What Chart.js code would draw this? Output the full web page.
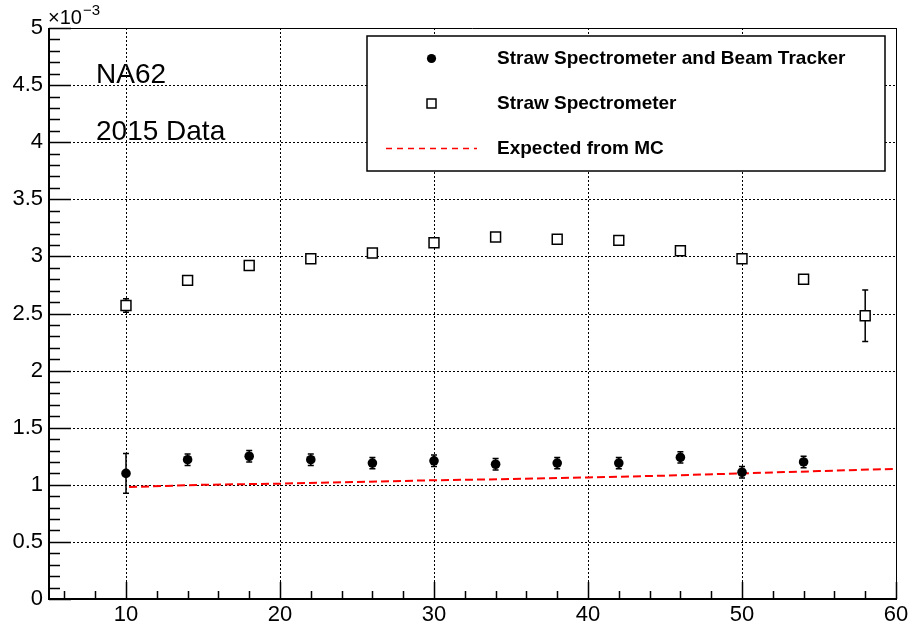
<!DOCTYPE html>
<html>
<head>
<meta charset="utf-8">
<title>NA62 2015 Data</title>
<script src="https://cdn.jsdelivr.net/npm/chart.js@4.4.0/dist/chart.umd.min.js"></script>
<style>
  html, body { margin: 0; padding: 0; background: #fff; }
  #wrap { width: 912px; height: 628px; }
</style>
</head>
<body>
<div id="wrap"><canvas id="chart" width="912" height="628"></canvas></div>
<script>
// Values are in units of 1e-3 (see the axis multiplier)
const beamMomentum = [10, 14, 18, 22, 26, 30, 34, 38, 42, 46, 50, 54];
const beamRatio    = [1.10, 1.22, 1.25, 1.22, 1.19, 1.21, 1.18, 1.19, 1.19, 1.24, 1.11, 1.20];
const beamError    = [0.175, 0.05, 0.05, 0.05, 0.05, 0.05, 0.05, 0.05, 0.05, 0.05, 0.05, 0.05];

const strawMomentum = [10, 14, 18, 22, 26, 30, 34, 38, 42, 46, 50, 54, 58];
const strawRatio    = [2.57, 2.79, 2.92, 2.98, 3.03, 3.12, 3.17, 3.15, 3.14, 3.05, 2.98, 2.80, 2.48];
const strawError    = [0.06, 0.02, 0.02, 0.02, 0.02, 0.02, 0.02, 0.02, 0.02, 0.02, 0.02, 0.03, 0.225];

const mcMomentum = [10.2, 15, 20, 25, 30, 35, 40, 45, 50, 55, 60];
const mcExpected = [0.98, 1.00, 1.01, 1.025, 1.04, 1.05, 1.065, 1.08, 1.10, 1.12, 1.14];

const xTicks = [10, 20, 30, 40, 50, 60];
const yTicks = [0, 0.5, 1, 1.5, 2, 2.5, 3, 3.5, 4, 4.5, 5];

const legendLabels = ['Straw Spectrometer and Beam Tracker', 'Straw Spectrometer', 'Expected from MC'];

const FONT = '"Liberation Sans", Arial, Helvetica, sans-serif';

function toPoints(xs, ys) {
    return xs.map((x, i) => ({ x: x, y: ys[i] }));
}

// ROOT-like frame: dotted grid, inward ticks, error bars, legend box and labels
const rootFrame = {
    id: 'rootFrame',
    beforeDatasetsDraw(chart) {
        const ctx = chart.ctx;
        const a = chart.chartArea;
        const xs = chart.scales.x;
        const ys = chart.scales.y;

        // dotted grid
        ctx.save();
        ctx.strokeStyle = '#000';
        ctx.lineWidth = 1;
        ctx.setLineDash([2, 2]);
        xTicks.forEach(v => {
            const px = Math.round(xs.getPixelForValue(v)) + 0.5;
            ctx.beginPath();
            ctx.moveTo(px, a.top);
            ctx.lineTo(px, a.bottom);
            ctx.stroke();
        });
        yTicks.forEach(v => {
            const py = Math.round(ys.getPixelForValue(v)) + 0.5;
            ctx.beginPath();
            ctx.moveTo(a.left, py);
            ctx.lineTo(a.right, py);
            ctx.stroke();
        });
        ctx.restore();

        // error bars
        const drawErrors = (xsArr, ysArr, errArr) => {
            ctx.save();
            ctx.strokeStyle = '#000';
            ctx.lineWidth = 1.5;
            xsArr.forEach((x, i) => {
                const px = xs.getPixelForValue(x);
                const top = ys.getPixelForValue(ysArr[i] + errArr[i]);
                const bot = ys.getPixelForValue(ysArr[i] - errArr[i]);
                ctx.beginPath();
                ctx.moveTo(px, top);
                ctx.lineTo(px, bot);
                ctx.moveTo(px - 3, top);
                ctx.lineTo(px + 3, top);
                ctx.moveTo(px - 3, bot);
                ctx.lineTo(px + 3, bot);
                ctx.stroke();
            });
            ctx.restore();
        };
        drawErrors(beamMomentum, beamRatio, beamError);
        drawErrors(strawMomentum, strawRatio, strawError);
    },
    afterDatasetsDraw(chart) {
        const ctx = chart.ctx;
        const a = chart.chartArea;
        const xs = chart.scales.x;
        const ys = chart.scales.y;

        ctx.save();
        ctx.strokeStyle = '#000';

        // thin frame on top and right
        ctx.lineWidth = 1;
        ctx.beginPath();
        ctx.moveTo(a.left, a.top + 0.5);
        ctx.lineTo(a.right + 0.5, a.top + 0.5);
        ctx.lineTo(a.right + 0.5, a.bottom);
        ctx.stroke();

        // axis lines
        ctx.lineWidth = 2;
        ctx.beginPath();
        ctx.moveTo(a.left, a.top);
        ctx.lineTo(a.left, a.bottom);
        ctx.lineTo(a.right + 1, a.bottom);
        ctx.stroke();

        // y ticks: major every 0.5, minor every 0.1
        ctx.lineWidth = 1.5;
        ctx.beginPath();
        for (let k = 0; k <= 50; k++) {
            const py = Math.round(ys.getPixelForValue(k / 10)) + 0.5;
            const len = k % 5 === 0 ? 22 : 11;
            ctx.moveTo(a.left, py);
            ctx.lineTo(a.left + len, py);
        }
        // x ticks: major every 10, minor every 2
        for (let v = 6; v <= 60; v += 2) {
            const px = Math.round(xs.getPixelForValue(v)) + 0.5;
            const len = v % 10 === 0 ? 17 : 8;
            ctx.moveTo(px, a.bottom);
            ctx.lineTo(px, a.bottom - len);
        }
        ctx.stroke();

        // axis multiplier
        ctx.fillStyle = '#000';
        ctx.textBaseline = 'alphabetic';
        ctx.textAlign = 'left';
        ctx.font = '20px ' + FONT;
        ctx.fillText('\u00d710', 48, 24);
        ctx.font = '15px ' + FONT;
        ctx.fillText('\u22123', 83, 15);

        // experiment labels
        ctx.font = '28px ' + FONT;
        ctx.fillText('NA62', 96, 83);
        ctx.fillText('2015 Data', 96, 140);

        // legend box
        const lx = 367, ly = 36, lw = 518, lh = 135;
        ctx.fillStyle = '#fff';
        ctx.fillRect(lx, ly, lw, lh);
        ctx.lineWidth = 1.5;
        ctx.strokeStyle = '#000';
        ctx.strokeRect(lx, ly, lw, lh);

        const rows = [58.5, 103.5, 148.5];
        ctx.fillStyle = '#000';
        ctx.beginPath();
        ctx.arc(431.5, rows[0], 4.6, 0, Math.PI * 2);
        ctx.fill();

        ctx.lineWidth = 1.5;
        ctx.fillStyle = '#fff';
        ctx.fillRect(427, rows[1] - 4.5, 9, 9);
        ctx.strokeRect(427, rows[1] - 4.5, 9, 9);

        ctx.strokeStyle = '#ff0000';
        ctx.lineWidth = 1.5;
        ctx.setLineDash([6, 5]);
        ctx.beginPath();
        ctx.moveTo(386, rows[2]);
        ctx.lineTo(477, rows[2]);
        ctx.stroke();
        ctx.setLineDash([]);

        ctx.fillStyle = '#000';
        ctx.font = 'bold 19px ' + FONT;
        ctx.textBaseline = 'alphabetic';
        legendLabels.forEach((t, i) => ctx.fillText(t, 497, rows[i] + 5));
        ctx.restore();
    }
};

const chart = new Chart(document.getElementById('chart'), {
    type: 'scatter',
    data: {
        datasets: [
            {
                label: legendLabels[0],
                data: toPoints(beamMomentum, beamRatio),
                pointStyle: 'circle',
                pointRadius: 4.8,
                backgroundColor: '#000',
                borderColor: '#000',
                borderWidth: 0
            },
            {
                label: legendLabels[1],
                data: toPoints(strawMomentum, strawRatio),
                pointStyle: 'rect',
                pointRadius: 7,
                backgroundColor: '#fff',
                borderColor: '#000',
                borderWidth: 1.5
            },
            {
                label: legendLabels[2],
                type: 'line',
                data: toPoints(mcMomentum, mcExpected),
                showLine: true,
                borderColor: '#ff0000',
                borderWidth: 2,
                borderDash: [8, 4],
                pointRadius: 0,
                fill: false,
                tension: 0
            }
        ]
    },
    options: {
        responsive: false,
        animation: false,
        devicePixelRatio: 1,
        layout: { padding: { top: 28, right: 16, left: 0, bottom: 0 } },
        plugins: {
            legend: { display: false },
            tooltip: { enabled: false }
        },
        scales: {
            x: {
                type: 'linear',
                min: 5,
                max: 60,
                afterBuildTicks: axis => { axis.ticks = xTicks.map(v => ({ value: v })); },
                afterFit: scale => { scale.height = 29; },
                grid: { display: false, drawTicks: false },
                border: { display: false },
                ticks: {
                    color: '#000',
                    font: { family: FONT, size: 22 },
                    padding: 3,
                    maxRotation: 0,
                    autoSkip: false,
                    callback: v => String(v)
                }
            },
            y: {
                type: 'linear',
                min: 0,
                max: 5,
                afterBuildTicks: axis => { axis.ticks = yTicks.map(v => ({ value: v })); },
                afterFit: scale => { scale.width = 49; },
                grid: { display: false, drawTicks: false },
                border: { display: false },
                ticks: {
                    color: '#000',
                    font: { family: FONT, size: 22 },
                    padding: 6,
                    autoSkip: false,
                    callback: v => String(v)
                }
            }
        }
    },
    plugins: [rootFrame]
});
</script>
</body>
</html>
